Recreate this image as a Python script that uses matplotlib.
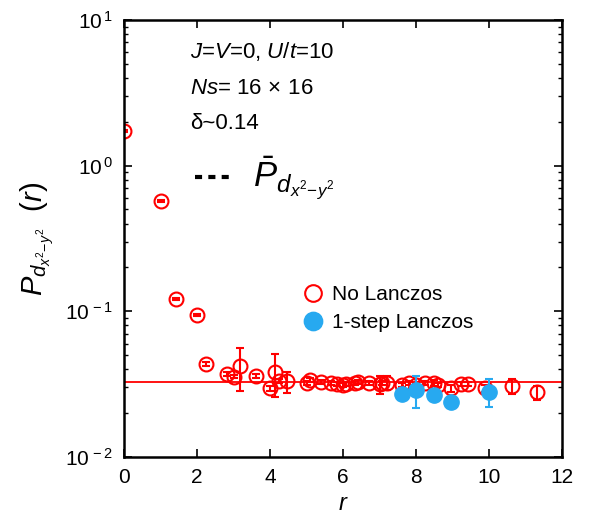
import matplotlib.pyplot as plt
import numpy as np

plt.rcParams['font.family'] = ['Liberation Sans', 'DejaVu Sans']
plt.rcParams['mathtext.fontset'] = 'custom'
plt.rcParams['mathtext.rm'] = 'Liberation Sans'
plt.rcParams['mathtext.it'] = 'Liberation Sans:italic'
plt.rcParams['mathtext.bf'] = 'Liberation Sans:bold'

# No Lanczos
r_no = [0, 1, 1.414, 2, 2.236, 2.828, 3, 3.162, 3.606, 4, 4.123, 4.243, 4.472,
        5, 5.099, 5.385, 5.657, 5.831, 6, 6.083, 6.325, 6.403, 6.708, 7, 7.071,
        7.211, 7.616, 7.81, 8, 8.246, 8.485, 8.602, 8.944, 9.22, 9.434, 9.899,
        10.63, 11.31]
p_no = [1.73, 0.571, 0.121, 0.0944, 0.0435, 0.0371, 0.0356, 0.0423, 0.036, 0.0296,
        0.0383, 0.0331, 0.0331, 0.0320, 0.0337, 0.0329, 0.0320, 0.0317, 0.0312,
        0.0317, 0.0320, 0.0329, 0.0324, 0.0317, 0.0324, 0.0322, 0.0312, 0.0320,
        0.0312, 0.0320, 0.0320, 0.0312, 0.0296, 0.0317, 0.0317, 0.0296, 0.0307,
        0.0278]
e_no = [0.03, 0.01, 0.002, 0.002, 0.0015, 0.0012, 0.001, 0.014, 0.001, 0.001,
        0.0125, 0.001, 0.0055, 0.001, 0.001, 0.001, 0.001, 0.001, 0.001, 0.001,
        0.001, 0.001, 0.001, 0.0045, 0.001, 0.0035, 0.001, 0.001, 0.001, 0.001,
        0.0015, 0.001, 0.0015, 0.001, 0.001, 0.0015, 0.0035, 0.003]

# 1-step Lanczos
r_ls = [7.616, 8, 8.485, 8.944, 10]
p_ls = [0.0269, 0.0288, 0.0267, 0.0240, 0.0281]
e_ls = [0.001, 0.007, 0.001, 0.0015, 0.006]

p_bar = 0.0326

fig = plt.figure(figsize=(5.91, 5.22), dpi=100)
ax = fig.add_axes([0.21, 0.1245, 0.741, 0.8375])

ax.axhline(p_bar, color='red', lw=1.3, zorder=1)
h1 = ax.errorbar(r_no, p_no, yerr=e_no, fmt='o', mfc='none', mec='red', ecolor='red',
                 ms=10, mew=1.5, elinewidth=1.5, capsize=3, capthick=1.5, zorder=2)
h2 = ax.errorbar(r_ls, p_ls, yerr=e_ls, fmt='o', mfc='#27a9f0', mec='#27a9f0',
                 ecolor='#27a9f0', ms=11, elinewidth=1.5, capsize=3, capthick=1.5,
                 zorder=3)

ax.set_yscale('log')
ax.set_xlim(0, 12)
ax.set_ylim(1e-2, 1e1)
ax.set_xticks([0, 2, 4, 6, 8, 10, 12])
ax.set_yticks([1e-2, 1e-1, 1e0, 1e1])
ax.set_yticklabels([r'$10^{\,-2}$', r'$10^{\,-1}$', r'$10^{\,0}$', r'$10^{\,1}$'])
ax.tick_params(which='both', direction='in', top=True, right=True, labelsize=15)
ax.tick_params(which='major', length=6, width=1.2, pad=8)
ax.tick_params(which='minor', length=3, width=1)
for s in ax.spines.values():
    s.set_linewidth(1.8)

ax.set_xlabel(r'$r$', fontsize=17, labelpad=4)
ax.set_ylabel(r'$P_{d_{x^2\!-\!y^2}}\ \ (r)$', fontsize=21, labelpad=6)

ax.text(0.15, 0.927, r'$J$=$V$=0, $U$/$t$=10', transform=ax.transAxes,
        fontsize=16, va='center')
ax.text(0.15, 0.843, r'$Ns$= 16$\,\times\,$16', transform=ax.transAxes,
        fontsize=16, va='center')
ax.text(0.15, 0.763, 'δ~0.14', transform=ax.transAxes,
        fontsize=16, va='center')
ax.plot([0.162, 0.2396], [0.64, 0.64], transform=ax.transAxes, color='black',
        lw=3, ls=(0, (1.7, 1.5)), solid_capstyle='butt', dash_capstyle='butt')
ax.text(0.295, 0.64, r'$\bar{P}_{d_{x^2\!-\!y^2}}$', transform=ax.transAxes,
        fontsize=25, va='center')

ax.legend([h1[0], h2[0]], ['No Lanczos', '1-step Lanczos'],
          loc='center left', bbox_to_anchor=(0.36, 0.339), frameon=False,
          fontsize=15, handletextpad=0.3, labelspacing=0.45, handlelength=1.2,
          markerscale=1.2)

fig.savefig('out.png', dpi=100)
